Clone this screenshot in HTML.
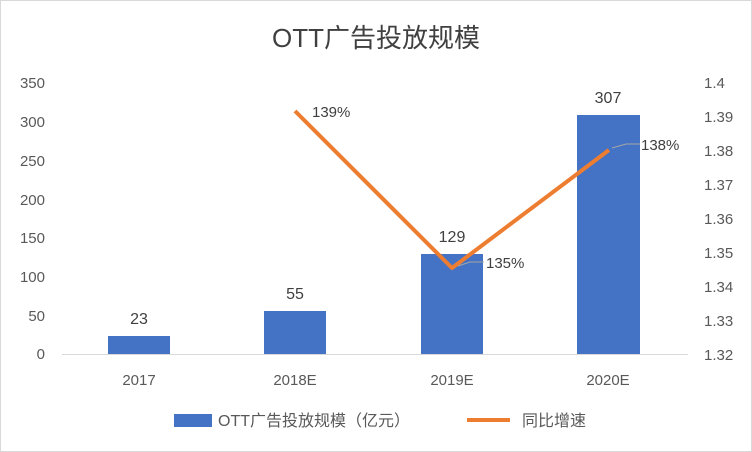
<!DOCTYPE html>
<html><head><meta charset="utf-8"><style>
html,body{margin:0;padding:0;background:#fff;}
svg{display:block;font-family:"Liberation Sans","Noto Sans CJK SC",sans-serif;}
</style></head><body>
<svg width="752" height="452" viewBox="0 0 752 452">
<rect x="0.5" y="0.5" width="751" height="451" fill="#fff" stroke="#d9d9d9"/>
<text x="376" y="47" text-anchor="middle" font-size="26" fill="#404040">OTT广告投放规模</text>
<g font-size="15" fill="#595959" text-anchor="end">
<text x="45" y="88">350</text><text x="45" y="127">300</text><text x="45" y="166">250</text>
<text x="45" y="205">200</text><text x="45" y="243">150</text><text x="45" y="282">100</text>
<text x="45" y="321">50</text><text x="45" y="359">0</text>
</g>
<g font-size="15" fill="#595959" text-anchor="start">
<text x="704" y="88">1.4</text><text x="704" y="122">1.39</text><text x="704" y="156">1.38</text>
<text x="704" y="190">1.37</text><text x="704" y="224">1.36</text><text x="704" y="258">1.35</text>
<text x="704" y="292">1.34</text><text x="704" y="326">1.33</text><text x="704" y="360">1.32</text>
</g>
<line x1="62" y1="354.5" x2="688" y2="354.5" stroke="#d9d9d9"/>
<g fill="#4472c4">
<rect x="108" y="336" width="62" height="18"/>
<rect x="264" y="311" width="62" height="43"/>
<rect x="421" y="254" width="62" height="100"/>
<rect x="577" y="115" width="63" height="239"/>
</g>
<g font-size="16" fill="#404040" text-anchor="middle">
<text x="139" y="324">23</text><text x="295" y="299">55</text>
<text x="452" y="242">129</text><text x="608" y="103">307</text>
</g>
<polyline points="295,111 452,268 609,150" fill="none" stroke="#ed7d31" stroke-width="4" stroke-linejoin="round"/>
<polyline points="458,266 470,262 484,262" fill="none" stroke="#a6a6a6" stroke-width="1"/>
<polyline points="612,148 626,144 640,144" fill="none" stroke="#a6a6a6" stroke-width="1"/>
<g font-size="15" fill="#404040">
<text x="312" y="117">139%</text><text x="486" y="268">135%</text><text x="641" y="150">138%</text>
</g>
<g font-size="15" fill="#595959" text-anchor="middle">
<text x="139" y="385">2017</text><text x="295" y="385">2018E</text>
<text x="452" y="385">2019E</text><text x="608" y="385">2020E</text>
</g>
<rect x="174" y="414" width="38" height="13" fill="#4472c4"/>
<text x="218" y="426" font-size="16" fill="#595959">OTT广告投放规模（亿元）</text>
<line x1="467" y1="420" x2="510" y2="420" stroke="#ed7d31" stroke-width="4"/>
<text x="522" y="426" font-size="16" fill="#595959">同比增速</text>
</svg>
</body></html>
